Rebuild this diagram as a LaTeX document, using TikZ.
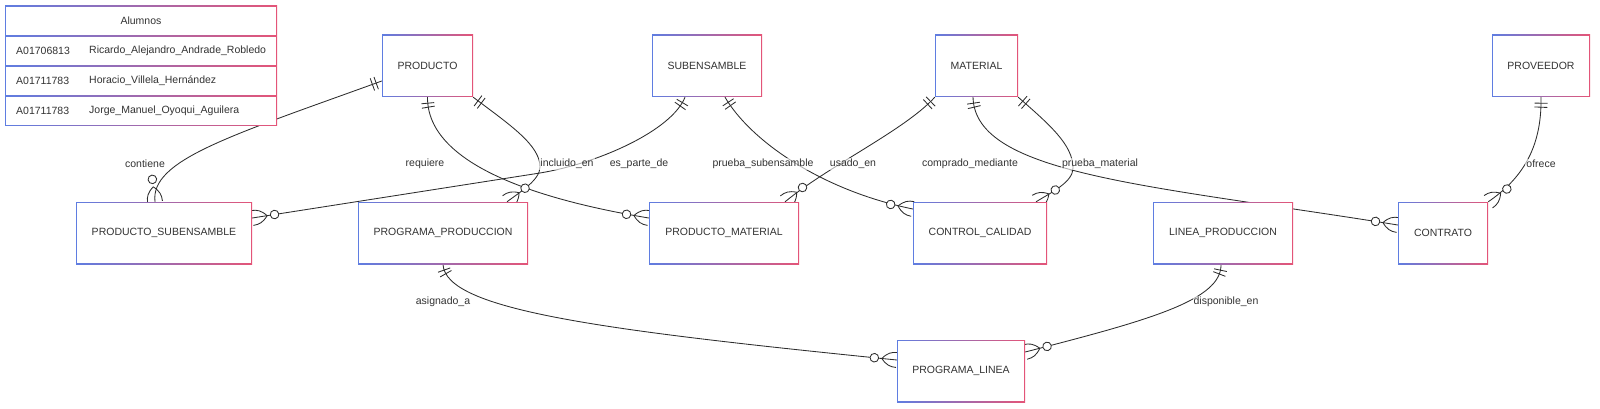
\documentclass[tikz,border=0pt]{standalone}
\usepackage{fontspec}
\setmainfont{Liberation Sans}
\usepackage{tikz}
\usetikzlibrary{calc}
\usetikzlibrary{decorations.markings}
\definecolor{erBlue}{RGB}{95,125,225}
\definecolor{erRed}{RGB}{228,85,120}
\definecolor{erText}{RGB}{51,51,51}
\definecolor{erLine}{RGB}{45,45,45}
\pgfdeclarelayer{edges}
\pgfsetlayers{edges,main}
\newcommand{\erfont}{\fontsize{10.5}{12}\selectfont}
\tikzset{entity/.style={
  fill=white,
  minimum height=62pt,
  inner sep=0pt,
  text=erText,
  font=\erfont,
  path picture={
    \shade[left color=erBlue, right color=erRed]
      (path picture bounding box.south west) rectangle (path picture bounding box.north east);
    \fill[white] ([shift={(1.1pt,1.1pt)}]path picture bounding box.south west)
      rectangle ([shift={(-1.1pt,-1.1pt)}]path picture bounding box.north east);
  }
}}
\tikzset{reltip/.style={draw=erLine, line width=0.85pt}}
\tikzset{rel/.style={
  reltip,
  postaction={decorate},
  decoration={
    markings,
    % exactly one at the start
    mark=at position 6pt with {\draw[reltip] (0,-6.5pt) -- (0,6.5pt);},
    mark=at position 10pt with {\draw[reltip] (0,-6.5pt) -- (0,6.5pt);},
    % zero or many at the end
    mark=at position -0.1pt with {
      \draw[reltip, fill=white] (-22.5pt,0) circle[radius=4.3pt];
      \draw[reltip] (-15pt,0) .. controls (-10pt,6pt) and (-6pt,7.5pt) .. (0,7.5pt);
      \draw[reltip] (-15pt,0) .. controls (-10pt,-6pt) and (-6pt,-7.5pt) .. (0,-7.5pt);
    }
  }
}}
\tikzset{lbl/.style={text=erText, font=\erfont, fill=white, fill opacity=0.6, text opacity=1, inner sep=1pt}}
\tikzset{tabtext/.style={text=erText, font=\erfont, inner sep=0pt}}
\begin{document}
\begin{tikzpicture}[x=1pt,y=-1pt]
        \useasboundingbox (0,0) rectangle (1600,409);
        % Entities
        \node[entity, minimum width=91pt] (producto) at (427.5,66) {PRODUCTO};
        \node[entity, minimum width=110pt] (subensamble) at (707,66) {SUBENSAMBLE};
        \node[entity, minimum width=83pt] (material) at (976.5,66) {MATERIAL};
        \node[entity, minimum width=98pt] (proveedor) at (1541,66) {PROVEEDOR};
        \node[entity, minimum width=176pt] (prodsub) at (164,233) {PRODUCTO\_SUBENSAMBLE};
        \node[entity, minimum width=170pt] (progprod) at (443,233) {PROGRAMA\_PRODUCCION};
        \node[entity, minimum width=150pt] (prodmat) at (724,233) {PRODUCTO\_MATERIAL};
        \node[entity, minimum width=134pt] (control) at (980,233) {CONTROL\_CALIDAD};
        \node[entity, minimum width=140pt] (linea) at (1223,233) {LINEA\_PRODUCCION};
        \node[entity, minimum width=90pt] (contrato) at (1443,233) {CONTRATO};
        \node[entity, minimum width=128pt] (proglinea) at (961,371) {PROGRAMA\_LINEA};
        % Relationships
        \begin{pgfonlayer}{edges}
          \draw[rel] ([yshift=-15pt]producto.west) .. controls (230,136) and (150,160) .. ([xshift=-9pt]prodsub.north);
          \draw[rel] (producto.south) .. controls (427,165) and (540,200) .. ([yshift=15pt]prodmat.west);
          \draw[rel] (producto.south east) .. controls (510,125) and (540,145) .. (540,167)
            .. controls (540,180) and (520,192) .. ([xshift=64pt]progprod.north);
          \draw[rel] ([xshift=-22pt]subensamble.south) .. controls (672,130) and (600,163) .. (540,173)
            -- ([yshift=15pt]prodsub.east);
          \draw[rel] ([xshift=18pt]subensamble.south) .. controls (750,140) and (820,190) .. ([yshift=24pt]control.west);
          \draw[rel] (material.south west) .. controls (905,130) and (830,165) .. ([xshift=61pt]prodmat.north);
          \draw[rel] ([xshift=-3.5pt]material.south) .. controls (975,175) and (1150,185) .. ([yshift=8pt]contrato.west);
          \draw[rel] (material.south east) .. controls (1050,125) and (1073,145) .. (1073,168)
            .. controls (1073,182) and (1052,192) .. ([xshift=56pt]control.north);
          \draw[rel] (proveedor.south) .. controls (1542,150) and (1520,180) .. (contrato.north east);
          \draw[rel] (progprod.south) .. controls (445,310) and (600,330) .. ([yshift=11pt]proglinea.west);
          \draw[rel] ([xshift=-2pt]linea.south) .. controls (1222,300) and (1150,320) .. ([yshift=19pt]proglinea.east);
        \end{pgfonlayer}
        % Relationship labels
        \node[lbl] (l-contiene) at (145,164) {contiene};
        \node[lbl] (l-requiere) at (425,164) {requiere};
        \node[lbl] (l-incluido) at (567,164) {incluido\_en};
        \node[lbl] (l-parte) at (639,164) {es\_parte\_de};
        \node[lbl] (l-pruebasub) at (763,164) {prueba\_subensamble};
        \node[lbl] (l-usado) at (853,164) {usado\_en};
        \node[lbl] (l-comprado) at (970,164) {comprado\_mediante};
        \node[lbl] (l-pruebamat) at (1100,164) {prueba\_material};
        \node[lbl] (l-ofrece) at (1541,164) {ofrece};
        \node[lbl] (l-asignado) at (443,302) {asignado\_a};
        \node[lbl] (l-disponible) at (1226,302) {disponible\_en};
        % Alumnos table
        \shade[left color=erBlue, right color=erRed] (5,6) rectangle (277,126);
        \foreach \rowy in {6,36,66,96}
          \fill[white] (6.1,\rowy+1.1) rectangle (275.9,\rowy+28.9);
        \node[tabtext] (alumnos) at (141,21) {Alumnos};
        \node[tabtext, anchor=west] (id1) at (16,51) {A01706813};
        \node[tabtext, anchor=west] (nom1) at (89,51) {Ricardo\_Alejandro\_Andrade\_Robledo};
        \node[tabtext, anchor=west] (id2) at (16,81) {A01711783};
        \node[tabtext, anchor=west] (nom2) at (89,81) {Horacio\_Villela\_Hernández};
        \node[tabtext, anchor=west] (id3) at (16,111) {A01711783};
        \node[tabtext, anchor=west] (nom3) at (89,111) {Jorge\_Manuel\_Oyoqui\_Aguilera};
      \end{tikzpicture}
\end{document}
